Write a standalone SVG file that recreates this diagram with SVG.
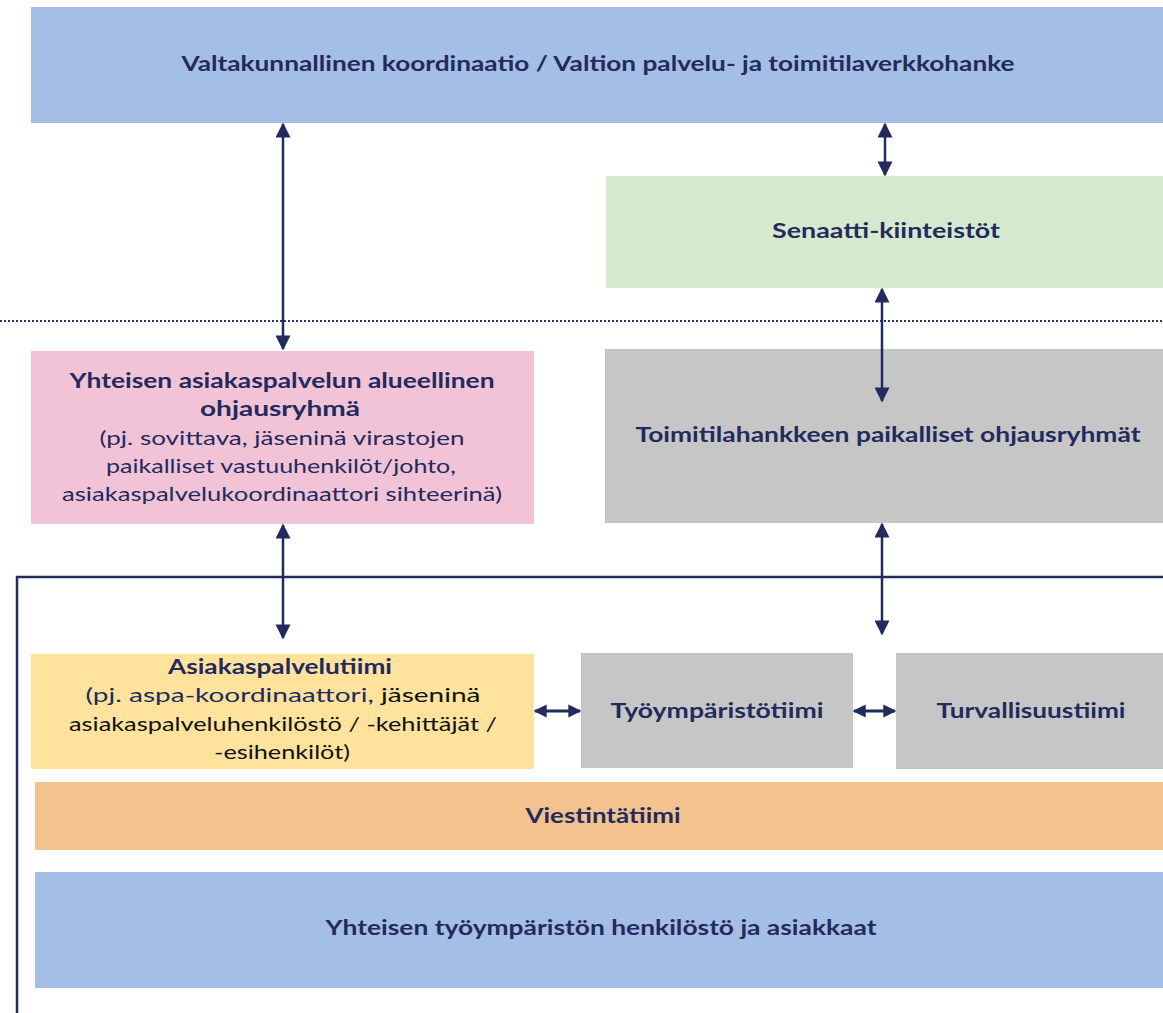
<svg xmlns="http://www.w3.org/2000/svg" width="1163" height="1013" viewBox="0 0 1163 1013">
<style>
text{font-family:Lato,"Open Sans","Liberation Sans",sans-serif;fill:#232A5E;text-anchor:middle}
.b{font-weight:bold;font-size:21px}
.r{font-size:20px}
.k{fill:#111111}
.ln{stroke:#232A5E;stroke-width:2.5;fill:none}
</style>
<defs>
<marker id="ah" viewBox="0 0 10 10" refX="9" refY="5" markerWidth="16" markerHeight="15" markerUnits="userSpaceOnUse" orient="auto-start-reverse">
<path d="M0,0 L10,5 L0,10 z" fill="#232A5E"/>
</marker>
<marker id="ahs" viewBox="0 0 10 10" refX="9" refY="5" markerWidth="13" markerHeight="15" markerUnits="userSpaceOnUse" orient="auto-start-reverse">
<path d="M0,0 L10,5 L0,10 z" fill="#232A5E"/>
</marker>
</defs>
<rect width="1163" height="1013" fill="#ffffff"/>
<line x1="0" y1="321" x2="1163" y2="321" stroke="#2B3366" stroke-width="2" stroke-dasharray="2 2"/>
<path class="ln" d="M17,1013 V577 H1163"/>

<g id="valtakunnallinen">
<rect x="31" y="7" width="1132" height="116" fill="#A5BEE5"/>
<text class="b" x="598" y="71" textLength="833" lengthAdjust="spacingAndGlyphs">Valtakunnallinen koordinaatio / Valtion palvelu- ja toimitilaverkkohanke</text>
</g>
<g id="senaatti">
<rect x="606" y="176" width="557" height="112" fill="#D6E9CF"/>
<text class="b" x="886" y="238" textLength="228" lengthAdjust="spacingAndGlyphs">Senaatti-kiinteistöt</text>
</g>
<g id="ohjausryhma">
<rect x="31" y="351" width="503" height="173" fill="#F2C3D7"/>
<text class="b" x="282" y="388" textLength="425" lengthAdjust="spacingAndGlyphs">Yhteisen asiakaspalvelun alueellinen</text>
<text class="b" x="280" y="416" textLength="160" lengthAdjust="spacingAndGlyphs">ohjausryhmä</text>
<text class="r" x="282" y="445" textLength="365" lengthAdjust="spacingAndGlyphs">(pj.  sovittava, jäseninä virastojen</text>
<text class="r" x="281" y="473" textLength="350" lengthAdjust="spacingAndGlyphs">paikalliset vastuuhenkilöt/johto,</text>
<text class="r" x="282" y="501" textLength="440" lengthAdjust="spacingAndGlyphs">asiakaspalvelukoordinaattori sihteerinä)</text>
</g>
<g id="toimitila">
<rect x="605" y="349" width="558" height="174" fill="#C6C6C6"/>
<text class="b" x="888" y="442" textLength="505" lengthAdjust="spacingAndGlyphs">Toimitilahankkeen paikalliset ohjausryhmät</text>
</g>
<g id="asiakaspalvelutiimi">
<rect x="31" y="654" width="503" height="115" fill="#FFE39D"/>
<text class="b" x="280" y="674" textLength="224" lengthAdjust="spacingAndGlyphs">Asiakaspalvelutiimi</text>
<text class="r" x="283" y="702" textLength="395" lengthAdjust="spacingAndGlyphs"><tspan>(pj.  aspa-koordinaattori, </tspan><tspan class="k">jäseninä</tspan></text>
<text class="r k" x="283" y="731" textLength="428" lengthAdjust="spacingAndGlyphs">asiakaspalveluhenkilöstö / -kehittäjät /</text>
<text class="r k" x="282" y="759" textLength="136" lengthAdjust="spacingAndGlyphs">-esihenkilöt)</text>
</g>
<g id="tyoymparistotiimi">
<rect x="581" y="653" width="272" height="115" fill="#C6C6C6"/>
<text class="b" x="717" y="718" textLength="213" lengthAdjust="spacingAndGlyphs">Työympäristötiimi</text>
</g>
<g id="turvallisuustiimi">
<rect x="896" y="653" width="267" height="116" fill="#C6C6C6"/>
<text class="b" x="1031" y="718" textLength="189" lengthAdjust="spacingAndGlyphs">Turvallisuustiimi</text>
</g>
<g id="viestintatiimi">
<rect x="35" y="782" width="1128" height="68" fill="#F4C28E"/>
<text class="b" x="603" y="823" textLength="155" lengthAdjust="spacingAndGlyphs">Viestintätiimi</text>
</g>
<g id="henkilosto">
<rect x="35" y="872" width="1128" height="116" fill="#A5BEE5"/>
<text class="b" x="601" y="935" textLength="551" lengthAdjust="spacingAndGlyphs">Yhteisen työympäristön henkilöstö ja asiakkaat</text>
</g>

<g id="connectors" class="ln">
<line x1="283" y1="124" x2="283" y2="349" marker-start="url(#ah)" marker-end="url(#ah)"/>
<line x1="885" y1="124" x2="885" y2="175" marker-start="url(#ah)" marker-end="url(#ah)"/>
<line x1="882" y1="289" x2="882" y2="401" marker-start="url(#ah)" marker-end="url(#ah)"/>
<line x1="283" y1="525" x2="283" y2="638" marker-start="url(#ah)" marker-end="url(#ah)"/>
<line x1="882" y1="524" x2="882" y2="634" marker-start="url(#ah)" marker-end="url(#ah)"/>
<line x1="535" y1="711" x2="580" y2="711" stroke-width="3" marker-start="url(#ahs)" marker-end="url(#ahs)"/>
<line x1="854" y1="711" x2="895" y2="711" stroke-width="3" marker-start="url(#ahs)" marker-end="url(#ahs)"/>
</g>
</svg>
